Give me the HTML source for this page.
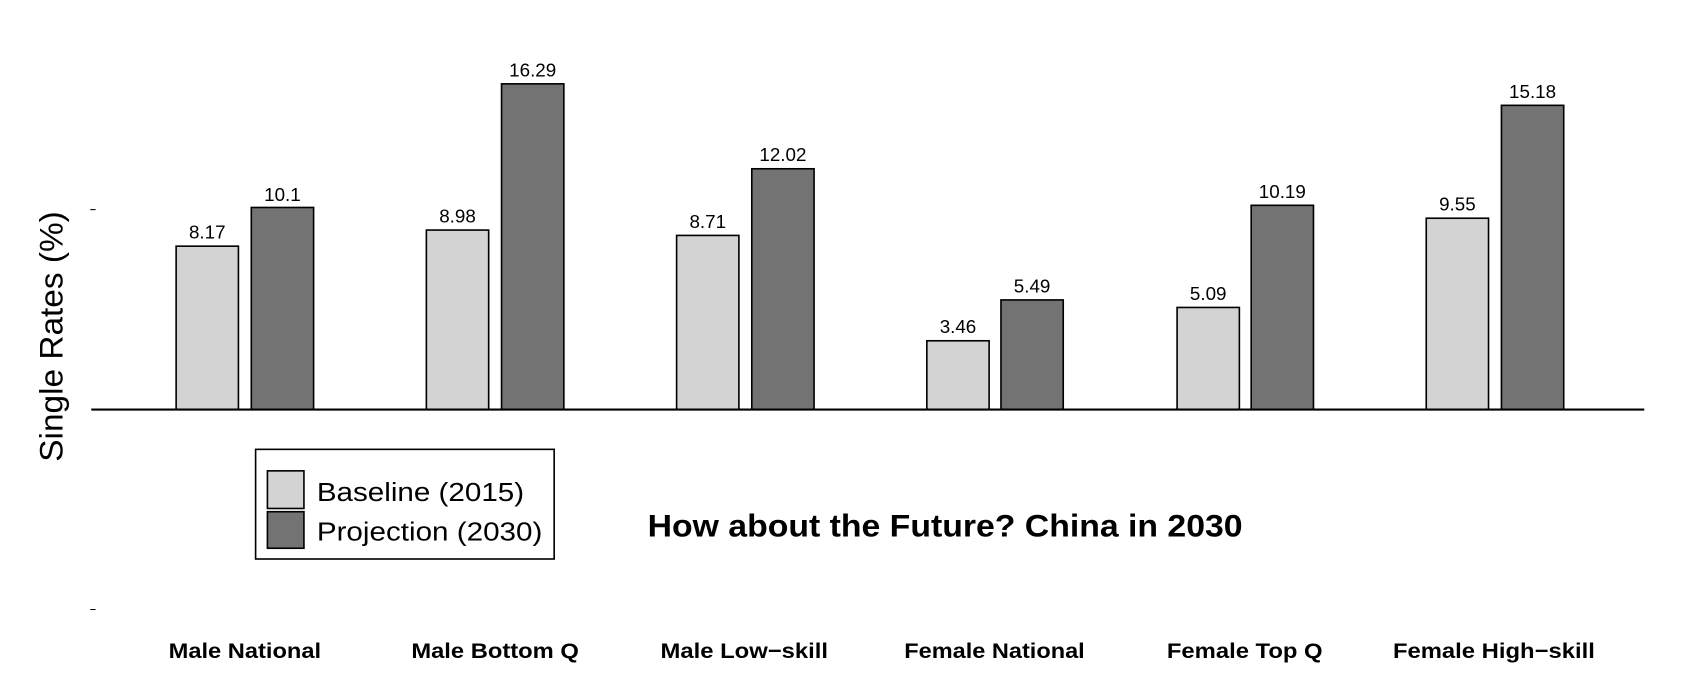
<!DOCTYPE html>
<html><head><meta charset="utf-8"><style>html,body{margin:0;padding:0;background:#fff}svg{display:block}</style></head>
<body>
<svg width="1684" height="688" viewBox="0 0 1568 640" preserveAspectRatio="none" xmlns="http://www.w3.org/2000/svg" font-family="Liberation Sans, Arial, sans-serif">
<rect width="1568" height="640" fill="#fff"/>
<g stroke="#000" stroke-width="1.5">
<rect x="164" y="229" width="58" height="152" fill="#d3d3d3"/>
<rect x="234" y="193" width="58" height="188" fill="#737373"/>
<rect x="397" y="214" width="58" height="167" fill="#d3d3d3"/>
<rect x="467" y="78" width="58" height="303" fill="#737373"/>
<rect x="630" y="219" width="58" height="162" fill="#d3d3d3"/>
<rect x="700" y="157" width="58" height="224" fill="#737373"/>
<rect x="863" y="317" width="58" height="64" fill="#d3d3d3"/>
<rect x="932" y="279" width="58" height="102" fill="#737373"/>
<rect x="1096" y="286" width="58" height="95" fill="#d3d3d3"/>
<rect x="1165" y="191" width="58" height="190" fill="#737373"/>
<rect x="1328" y="203" width="58" height="178" fill="#d3d3d3"/>
<rect x="1398" y="98" width="58" height="283" fill="#737373"/>
</g>
<line x1="85" y1="381" x2="1531" y2="381" stroke="#000" stroke-width="2"/>
<line x1="84" y1="195" x2="89" y2="195" stroke="#000" stroke-width="1"/>
<line x1="84" y1="567" x2="89" y2="567" stroke="#000" stroke-width="1"/>
<g font-size="17.5" text-anchor="middle" fill="#000">
<text x="193" y="222">8.17</text><text x="263" y="187">10.1</text>
<text x="426" y="207">8.98</text><text x="496" y="71">16.29</text>
<text x="659" y="212">8.71</text><text x="729" y="150">12.02</text>
<text x="892" y="310">3.46</text><text x="961" y="272">5.49</text>
<text x="1125" y="279">5.09</text><text x="1194" y="184">10.19</text>
<text x="1357" y="196">9.55</text><text x="1427" y="91">15.18</text>
</g>
<g font-size="20" font-weight="bold" text-anchor="middle" lengthAdjust="spacingAndGlyphs">
<text x="228" y="612" textLength="142" lengthAdjust="spacingAndGlyphs">Male National</text>
<text x="461" y="612" textLength="156" lengthAdjust="spacingAndGlyphs">Male Bottom Q</text>
<text x="693" y="612" textLength="156" lengthAdjust="spacingAndGlyphs">Male Low−skill</text>
<text x="926" y="612" textLength="168" lengthAdjust="spacingAndGlyphs">Female National</text>
<text x="1159" y="612" textLength="145" lengthAdjust="spacingAndGlyphs">Female Top Q</text>
<text x="1391" y="612" textLength="188" lengthAdjust="spacingAndGlyphs">Female High−skill</text>
</g>
<text transform="translate(58,313) rotate(-90)" font-size="30" text-anchor="middle" textLength="233" lengthAdjust="spacingAndGlyphs">Single Rates (%)</text>
<rect x="238" y="418" width="278" height="102" fill="#fff" stroke="#000" stroke-width="1.5"/>
<rect x="249" y="438" width="34" height="35" fill="#d3d3d3" stroke="#000" stroke-width="1.5"/>
<rect x="249" y="476" width="34" height="34" fill="#737373" stroke="#000" stroke-width="1.5"/>
<text x="295" y="466" font-size="24" textLength="193" lengthAdjust="spacingAndGlyphs">Baseline (2015)</text>
<text x="295" y="503" font-size="24" textLength="210" lengthAdjust="spacingAndGlyphs">Projection (2030)</text>
<text x="880" y="499" font-size="29" font-weight="bold" text-anchor="middle" textLength="554" lengthAdjust="spacingAndGlyphs">How about the Future? China in 2030</text>
</svg>
</body></html>
